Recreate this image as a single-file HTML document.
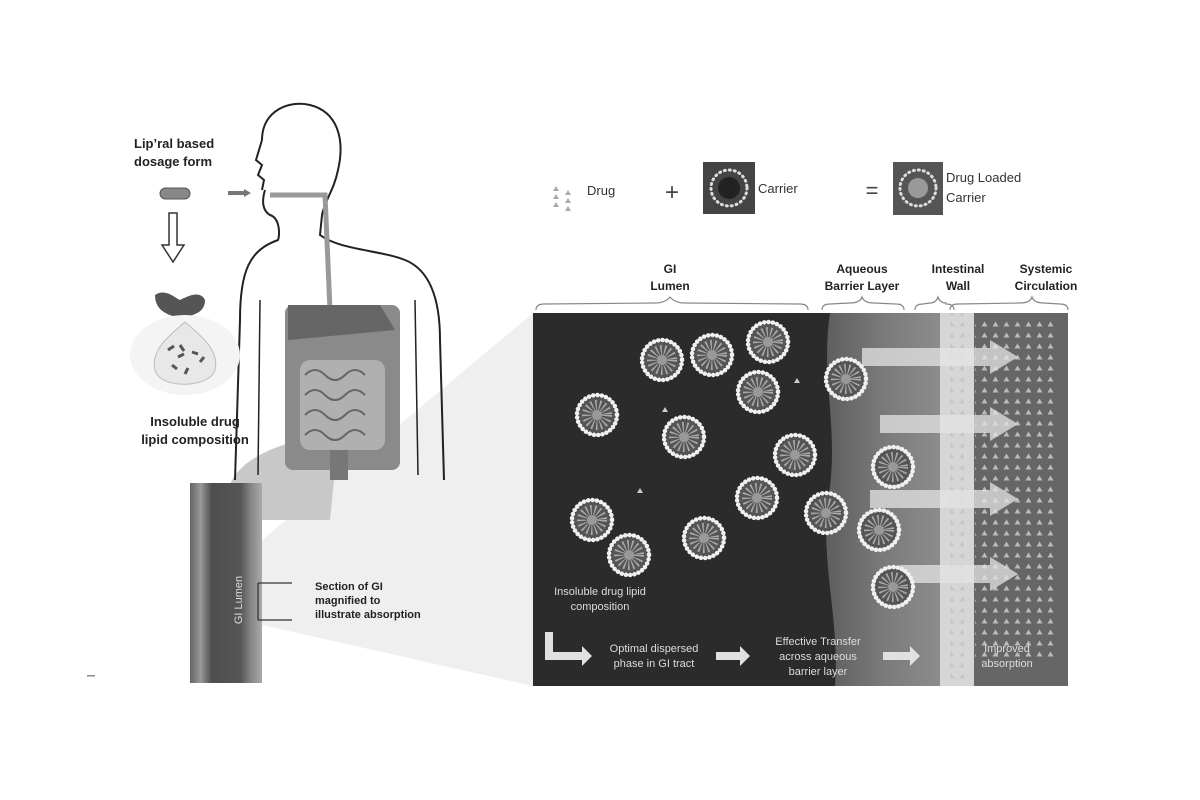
<!DOCTYPE html>
<html><head><meta charset="utf-8"><style>
html,body{margin:0;padding:0;background:#fff;}
svg{display:block;font-family:"Liberation Sans",sans-serif;}
.b{font-weight:bold;fill:#222;}
</style></head><body>
<svg width="1200" height="800" viewBox="0 0 1200 800" xmlns="http://www.w3.org/2000/svg">
<defs>
<pattern id="tri" width="11" height="11" patternUnits="userSpaceOnUse">
<path d="M5.5 2.5 L8.5 7.5 L2.5 7.5 Z" fill="#bbb"/>
</pattern>
<linearGradient id="aq" x1="0" x2="1">
<stop offset="0" stop-color="#5e5e5e"/><stop offset="0.5" stop-color="#7a7a7a"/><stop offset="1" stop-color="#8c8c8c"/>
</linearGradient>
<linearGradient id="tube" x1="0" x2="1">
<stop offset="0" stop-color="#666"/><stop offset="0.15" stop-color="#999"/><stop offset="0.3" stop-color="#4e4e4e"/><stop offset="0.7" stop-color="#555"/><stop offset="0.85" stop-color="#888"/><stop offset="1" stop-color="#aaa"/>
</linearGradient>
<g id="p">
<circle r="18" fill="#555"/>
<circle r="9" fill="none" stroke="#aaa" stroke-width="12" stroke-dasharray="1.2 2.2"/>
<circle r="5" fill="#999"/>
<circle r="20" fill="none" stroke="#f0f0f0" stroke-width="4.5" stroke-dasharray="0.1 4.2" stroke-linecap="round"/>
</g>
</defs>

<!-- beam -->
<polygon points="262,540 533,313 533,686 262,625" fill="#efefef"/>
<!-- blob connecting -->
<path d="M300,440 C260,450 225,470 228,500 L232,520 L330,520 L335,470 Z" fill="#c8c8c8"/>

<!-- body outline -->
<path d="M262,140 C262,110 290,100 310,105 C338,112 345,140 338,170 C334,190 325,200 322,215 L320,235 C340,250 380,250 405,260 C430,270 440,300 440,340 L444,480 M265,190 C262,200 262,210 270,215 C280,218 280,235 278,240 C250,250 240,270 240,320 L235,480" fill="none" stroke="#222" stroke-width="2"/>
<path d="M262,140 L256,160 L262,165 L258,175 L264,180 L262,190" fill="none" stroke="#222" stroke-width="2"/>
<path d="M260,300 L258,475 M415,300 L418,475" fill="none" stroke="#222" stroke-width="1.5"/>
<!-- esophagus -->
<path d="M270,195 L325,195 L330,310" fill="none" stroke="#999" stroke-width="5"/>
<!-- organs -->
<rect x="285" y="305" width="115" height="165" rx="8" fill="#8a8a8a"/>
<path d="M288,305 L380,305 L395,330 L288,340 Z" fill="#666"/>
<rect x="300" y="360" width="85" height="90" rx="10" fill="#b0b0b0"/>
<path d="M305,375 q10,-10 20,0 t20,0 t20,0 M305,395 q10,-10 20,0 t20,0 t20,0 M305,415 q10,-10 20,0 t20,0 t20,0 M305,435 q10,-10 20,0 t20,0 t20,0" fill="none" stroke="#666" stroke-width="2"/>
<rect x="330" y="450" width="18" height="30" fill="#777"/>

<!-- left items -->
<text x="134" y="148" class="b" font-size="13">Lip’ral based</text>
<text x="134" y="166" class="b" font-size="13">dosage form</text>
<rect x="160" y="188" width="30" height="11" rx="5.5" fill="#888" stroke="#555"/>
<path d="M228,193 L245,193" stroke="#777" stroke-width="4"/><path d="M244,189 L251,193 L244,197 Z" fill="#777"/>
<path d="M169,213 L177,213 L177,245 L184,245 L173,262 L162,245 L169,245 Z" fill="#fff" stroke="#333" stroke-width="1.5"/>
<path d="M155,295 C165,288 175,298 180,300 C188,296 200,290 205,300 C205,312 195,315 182,318 C170,316 155,312 155,295 Z" fill="#555"/>
<ellipse cx="185" cy="355" rx="55" ry="40" fill="#f4f4f4"/>
<path d="M185,322 C200,335 220,350 215,370 C210,388 160,390 155,370 C150,350 170,335 185,322 Z" fill="#e8e8e8" stroke="#bbb"/>
<path d="M168,350 l6,-4 M180,345 l4,6 M192,352 l6,2 M172,365 l5,4 M188,368 l-3,6 M200,362 l4,-5 M178,357 l6,-3" stroke="#555" stroke-width="3"/>
<text x="195" y="426" class="b" font-size="13" text-anchor="middle">Insoluble drug</text>
<text x="195" y="444" class="b" font-size="13" text-anchor="middle">lipid composition</text>

<!-- tube -->
<rect x="190" y="483" width="72" height="200" fill="url(#tube)"/>
<text transform="translate(242,600) rotate(-90)" font-size="11" fill="#ddd" text-anchor="middle">GI Lumen</text>
<path d="M258,583 L258,620 M258,583 L292,583 M258,620 L292,620" stroke="#333" stroke-width="1.3" fill="none"/>
<text x="315" y="590" class="b" font-size="11">Section of GI</text>
<text x="315" y="604" class="b" font-size="11">magnified to</text>
<text x="315" y="618" class="b" font-size="11">illustrate absorption</text>
<rect x="87" y="675" width="8" height="1.5" fill="#888"/>

<!-- legend -->
<g fill="#aaa"><path d="M556,186 l3,5 h-6z M556,194 l3,5 h-6z M556,202 l3,5 h-6z M568,190 l3,5 h-6z M568,198 l3,5 h-6z M568,206 l3,5 h-6z"/></g>
<text x="587" y="195" font-size="13" fill="#333">Drug</text>
<text x="672" y="200" font-size="24" fill="#444" text-anchor="middle">+</text>
<rect x="703" y="162" width="52" height="52" fill="#444"/>
<circle cx="729" cy="188" r="18" fill="none" stroke="#ddd" stroke-width="3" stroke-dasharray="1 4" stroke-linecap="round"/>
<circle cx="729" cy="188" r="11" fill="#222"/>
<text x="758" y="193" font-size="13" fill="#333">Carrier</text>
<text x="872" y="198" font-size="22" fill="#444" text-anchor="middle">=</text>
<rect x="893" y="162" width="50" height="53" fill="#555"/>
<circle cx="918" cy="188" r="18" fill="none" stroke="#ddd" stroke-width="3" stroke-dasharray="1 4" stroke-linecap="round"/>
<circle cx="918" cy="188" r="10" fill="#999"/>
<text x="946" y="182" font-size="13" fill="#333">Drug Loaded</text>
<text x="946" y="202" font-size="13" fill="#333">Carrier</text>

<!-- section labels -->
<g class="b" font-size="12" text-anchor="middle">
<text x="670" y="273">GI</text><text x="670" y="290">Lumen</text>
<text x="862" y="273">Aqueous</text><text x="862" y="290">Barrier Layer</text>
<text x="958" y="273">Intestinal</text><text x="958" y="290">Wall</text>
<text x="1046" y="273">Systemic</text><text x="1046" y="290">Circulation</text>
</g>
<g fill="none" stroke="#888" stroke-width="1.2">
<path d="M536,310 q0,-6 8,-6 L655,303 q10,0 15,-6 q5,6 15,6 L800,304 q8,0 8,6"/>
<path d="M822,310 q0,-6 8,-6 L850,303 q10,0 12,-6 q2,6 12,6 L896,304 q8,0 8,6"/>
<path d="M915,310 q0,-6 8,-6 L930,303 q6,0 8,-6 q2,6 8,6 L946,304 q8,0 8,6"/>
<path d="M950,310 q0,-6 8,-6 L1020,303 q10,0 12,-6 q2,6 12,6 L1060,304 q8,0 8,6"/>
</g>

<!-- main panel -->
<rect x="533" y="313" width="535" height="373" fill="#2b2b2b"/>
<path d="M830,313 C820,380 840,430 828,500 C820,560 840,620 835,686 L940,686 L940,313 Z" fill="url(#aq)"/>
<rect x="972" y="313" width="96" height="373" fill="#666"/>
<rect x="975" y="318" width="80" height="340" fill="url(#tri)"/>
<rect x="940" y="313" width="34" height="373" fill="#d6d6d6"/>
<rect x="950" y="313" width="14" height="373" fill="url(#tri)" opacity="0.6"/>
<!-- horizontal arrows -->
<g fill="#e4e4e4" opacity="0.75">
<path d="M862,348 L990,348 L990,340 L1018,357 L990,374 L990,366 L862,366 Z"/>
<path d="M880,415 L990,415 L990,407 L1018,424 L990,441 L990,433 L880,433 Z"/>
<path d="M870,490 L990,490 L990,482 L1018,499 L990,516 L990,508 L870,508 Z"/>
<path d="M900,565 L990,565 L990,557 L1018,574 L990,591 L990,583 L900,583 Z"/>
</g>
<!-- particles -->
<use href="#p" x="662" y="360"/><use href="#p" x="712" y="355"/><use href="#p" x="768" y="342"/>
<use href="#p" x="758" y="392"/><use href="#p" x="597" y="415"/><use href="#p" x="684" y="437"/>
<use href="#p" x="795" y="455"/><use href="#p" x="757" y="498"/><use href="#p" x="592" y="520"/>
<use href="#p" x="629" y="555"/><use href="#p" x="704" y="538"/>
<use href="#p" x="846" y="379"/><use href="#p" x="893" y="467"/><use href="#p" x="826" y="513"/>
<use href="#p" x="879" y="530"/><use href="#p" x="893" y="587"/>
<g fill="#ccc"><path d="M665,407 l3,5 h-6z M640,488 l3,5 h-6z M797,378 l3,5 h-6z"/></g>
<!-- bottom text -->
<g fill="#ddd" font-size="11" text-anchor="middle">
<text x="600" y="595">Insoluble drug lipid</text><text x="600" y="610">composition</text>
<text x="654" y="652">Optimal dispersed</text><text x="654" y="667">phase in GI tract</text>
<text x="818" y="645">Effective Transfer</text><text x="818" y="660">across aqueous</text><text x="818" y="675">barrier layer</text>
<text x="1007" y="652">Improved</text><text x="1007" y="667">absorption</text>
</g>
<g fill="#e0e0e0">
<path d="M545,632 L553,632 L553,652 L582,652 L582,646 L592,656 L582,666 L582,660 L545,660 Z"/>
<path d="M716,652 L740,652 L740,646 L750,656 L740,666 L740,660 L716,660 Z"/>
<path d="M883,652 L910,652 L910,646 L920,656 L910,666 L910,660 L883,660 Z"/>
</g>
</svg>
</body></html>
